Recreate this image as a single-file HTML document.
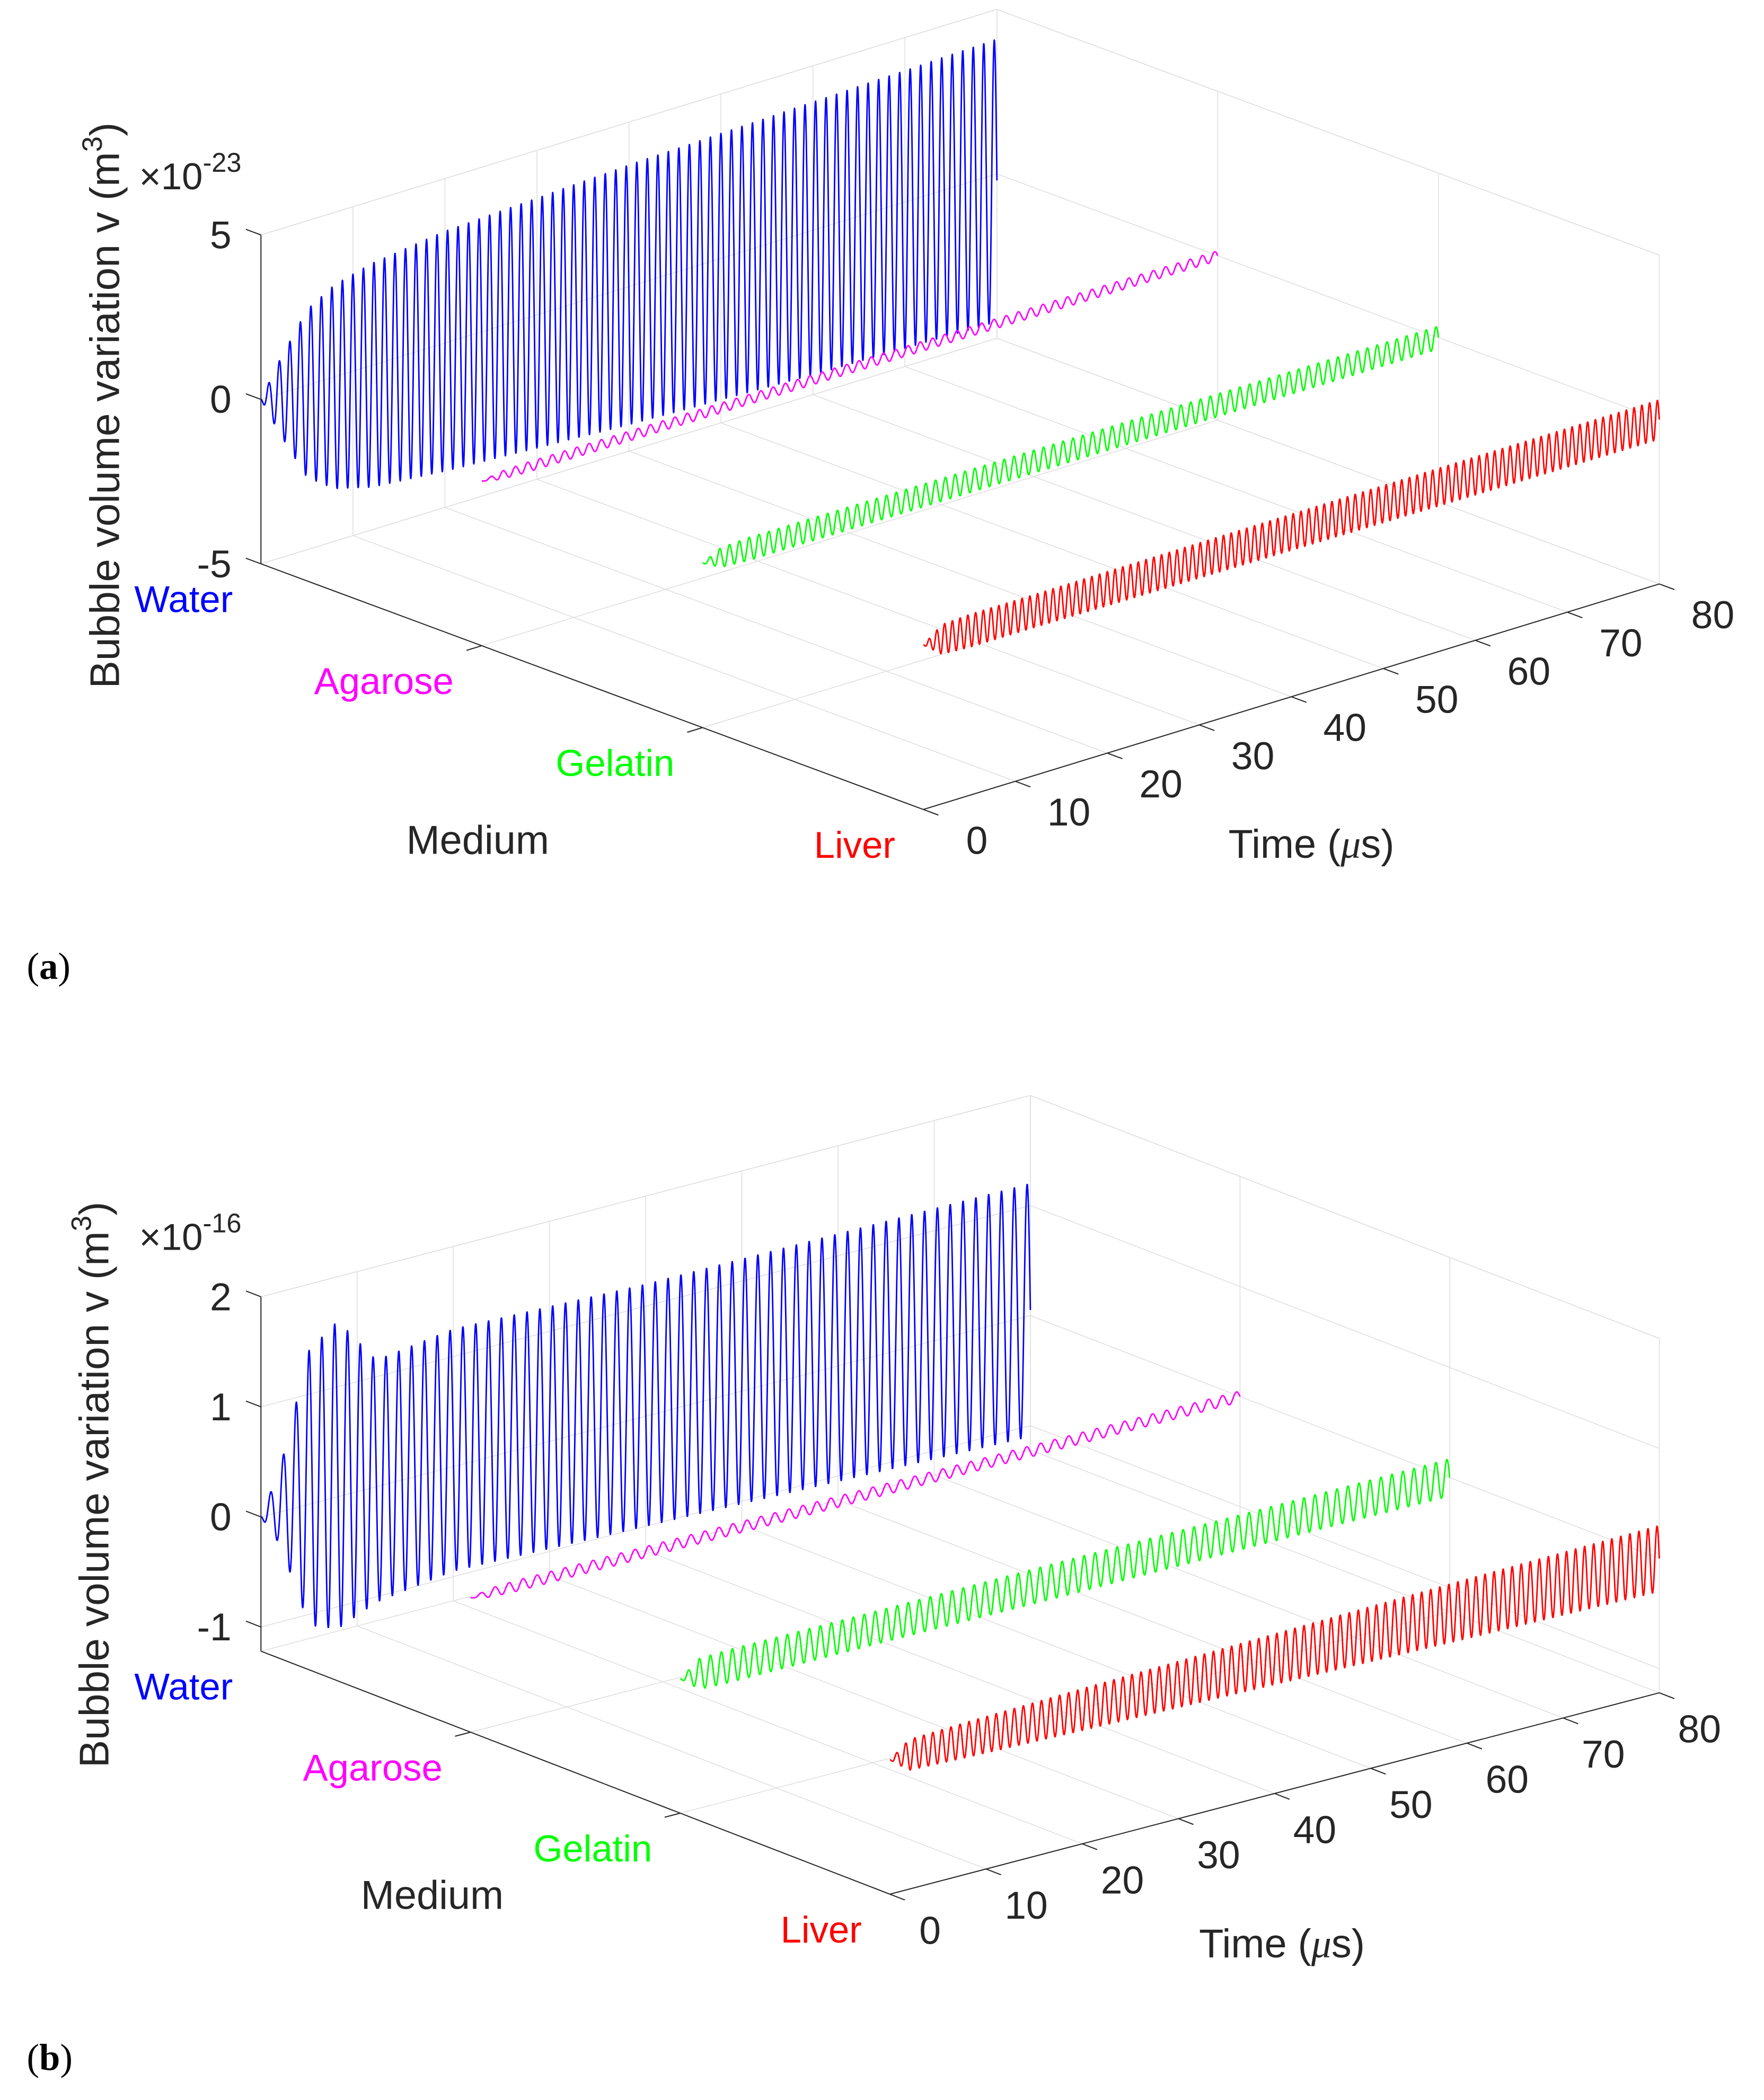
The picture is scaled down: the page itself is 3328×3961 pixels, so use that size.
<!DOCTYPE html>
<html><head><meta charset="utf-8"><style>
html,body{margin:0;padding:0;background:#fff;}
svg{display:block;}
text{font-family:"Liberation Sans",Arial,sans-serif;fill:#262626;}
</style></head><body>
<svg width="3328" height="3961" viewBox="0 0 1330.1 1583.1" preserveAspectRatio="none" xmlns="http://www.w3.org/2000/svg">
<g id="fig" transform="scale(1.009,1.012)">
<text x="20" y="1542" style="font-family:'Liberation Serif',serif;font-size:28px;fill:#000">(<tspan font-weight="bold">b</tspan>)</text>
<text x="20" y="729" style="font-family:'Liberation Serif',serif;font-size:28px;fill:#000">(<tspan font-weight="bold">a</tspan>)</text>
</g>
</svg>
<script>
// shared data
const mediums = ['Water','Agarose','Gelatin','Liver'];
const mediumColors = ['#0000ff','#ff00ff','#00ff00','#ff0000'];
const timeTicks = [0,10,20,30,40,50,60,70,80];
const envTimes = [0,2,5,8,12,20,40,60,80];
// panel a (x1e-23)
const aZTicks = [-5,0,5];
const aCycles = [70,60,75,95];
const aWaterTop = [0,1.0,2.3,2.8,3.1,3.4,3.7,3.9,4.1];
const aWaterBot = [0,-1.2,-2.8,-3.4,-3.7,-3.9,-4.2,-4.4,-4.5];
const aAgaroseTop = [0,0.12,0.15,0.15,0.15,0.15,0.15,0.15,0.15];
const aAgaroseBot = [0,-0.12,-0.15,-0.15,-0.15,-0.15,-0.15,-0.15,-0.15];
const aGelatinTop = [0,0.3,0.35,0.35,0.35,0.35,0.35,0.35,0.35];
const aGelatinBot = [0,-0.3,-0.35,-0.35,-0.35,-0.35,-0.35,-0.35,-0.35];
const aLiverTop = [0,0.45,0.5,0.5,0.5,0.52,0.55,0.58,0.6];
const aLiverBot = [0,-0.45,-0.5,-0.5,-0.5,-0.52,-0.55,-0.58,-0.6];
// panel b (x1e-16)
const bZTicks = [-1,0,1,2];
const bCycles = [60,55,70,85];
const bWaterTop = [0,0.4,1.4,1.6,1.15,1.25,1.2,1.2,1.2];
const bWaterBot = [0,-0.3,-1.1,-1.2,-1.05,-0.95,-1.0,-1.05,-1.1];
const bAgaroseTop = [0,0.04,0.05,0.05,0.05,0.05,0.05,0.05,0.05];
const bAgaroseBot = [0,-0.04,-0.05,-0.05,-0.05,-0.05,-0.05,-0.05,-0.05];
const bGelatinTop = [0,0.14,0.15,0.15,0.15,0.15,0.16,0.16,0.17];
const bGelatinBot = [0,-0.14,-0.15,-0.15,-0.15,-0.15,-0.16,-0.16,-0.17];
const bLiverTop = [0,0.14,0.15,0.16,0.17,0.19,0.23,0.27,0.3];
const bLiverBot = [0,-0.14,-0.15,-0.16,-0.17,-0.19,-0.23,-0.27,-0.3];

const NS='http://www.w3.org/2000/svg';
const svg=document.getElementById('fig');
function mk(tag,attrs,parent){const e=document.createElementNS(NS,tag);for(const k in attrs)e.setAttribute(k,attrs[k]);(parent||svg).appendChild(e);return e;}
function interp(xs,ys,x){for(let i=1;i<xs.length;i++){if(x<=xs[i]){const f=(x-xs[i-1])/(xs[i]-xs[i-1]);return ys[i-1]+f*(ys[i]-ys[i-1]);}}return ys[ys.length-1];}

function panel(cfg){
  const g=mk('g',{});
  
  
  const P=(m,t,z)=>{const fm=(m-1)/3,ft=t/80,fz=(z-cfg.zmin)/(cfg.zmax-cfg.zmin);
    return [cfg.O[0]+fm*cfg.M[0]+ft*cfg.T[0], cfg.O[1]+fm*cfg.M[1]+ft*cfg.T[1]-fz*cfg.H];};
  const line=(a,b,stroke,w,name)=>{const l=mk('line',{x1:a[0],y1:a[1],x2:b[0],y2:b[1],stroke:stroke,'stroke-width':w},g);
    
    return l;};
  const GC='#dedede',GW=0.6;
  timeTicks.forEach(t=>line(P(1,t,cfg.zmin),P(1,t,cfg.zmax),GC,GW,'grid-line-time-back'));
  cfg.zTicks.forEach(z=>line(P(1,0,z),P(1,80,z),GC,GW,'grid-line-z-back'));
  line(P(1,0,cfg.zmax),P(1,80,cfg.zmax),GC,GW,'box-edge-top');
  [1,2,3,4].forEach(m=>line(P(m,80,cfg.zmin),P(m,80,cfg.zmax),GC,GW,'grid-line-medium-side'));
  cfg.zTicks.forEach(z=>line(P(1,80,z),P(4,80,z),GC,GW,'grid-line-z-side'));
  line(P(1,80,cfg.zmax),P(4,80,cfg.zmax),GC,GW,'box-edge-top');
  timeTicks.forEach(t=>line(P(1,t,cfg.zmin),P(4,t,cfg.zmin),GC,GW,'grid-line-time-floor'));
  [1,2,3,4].forEach(m=>line(P(m,0,cfg.zmin),P(m,80,cfg.zmin),GC,GW,'grid-line-medium-floor'));
  cfg.series.forEach((s,i)=>{
    const N=3000;let d='';
    for(let k=0;k<=N;k++){const t=80*k/N;
      const top=interp(envTimes,s.top,t),bot=interp(envTimes,s.bot,t);
      const z=(top+bot)/2+(top-bot)/2*Math.sin(-2*Math.PI*cfg.cycles[i]*t/80);
      const p=P(i+1,t,z);d+=(k?'L':'M')+p[0].toFixed(2)+' '+p[1].toFixed(2);}
    const path=mk('path',{d:d,fill:'none',stroke:mediumColors[i],'stroke-width':1.1,'stroke-linejoin':'round'},g);
    
    
  });
  const AC='#262626',AW=0.8;
  line(P(1,0,cfg.zmin),P(1,0,cfg.zmax),AC,AW,'z-axis-line');
  line(P(1,0,cfg.zmin),P(4,0,cfg.zmin),AC,AW,'medium-axis-line');
  line(P(4,0,cfg.zmin),P(4,80,cfg.zmin),AC,AW,'time-axis-line');
  const ml=Math.hypot(cfg.M[0],cfg.M[1]),tl=Math.hypot(cfg.T[0],cfg.T[1]);
  cfg.zTicks.forEach(z=>{const p=P(1,0,z);line(p,[p[0]-12*cfg.M[0]/ml,p[1]-12*cfg.M[1]/ml],AC,AW,'z-tick');
    const tx=mk('text',{x:p[0]-22,y:p[1]+10,'text-anchor':'end','font-size':29},g);tx.textContent=String(z);
    
    });
  mediums.forEach((m,i)=>{const p=P(i+1,0,cfg.zmin);
    if(i>0&&i<3)line(p,[p[0]-12*cfg.T[0]/tl,p[1]-12*cfg.T[1]/tl],AC,AW,'medium-tick');
    const tx=mk('text',{x:p[0]-21,y:p[1]+cfg.mlOff,'text-anchor':'end','font-size':28,style:'fill:'+mediumColors[i]},g);tx.textContent=m;
    
    });
  timeTicks.forEach(t=>{const p=P(4,t,cfg.zmin);line(p,[p[0]+12*cfg.M[0]/ml,p[1]+12*cfg.M[1]/ml],AC,AW,'time-tick');
    const tx=mk('text',{x:p[0]+cfg.tlOff[0],y:p[1]+cfg.tlOff[1]+10,'text-anchor':'middle','font-size':29},g);tx.textContent=String(t);
    
    });
  let tx=mk('text',{x:cfg.medLab[0],y:cfg.medLab[1]+11,'text-anchor':'middle','font-size':30},g);tx.textContent='Medium';
  
  
  tx=mk('text',{x:cfg.timeLab[0],y:cfg.timeLab[1]+11,'text-anchor':'middle','font-size':30},g);
  tx.innerHTML='Time (<tspan font-family="Liberation Serif" font-style="italic">μ</tspan>s)';
  
  
  tx=mk('text',{x:0,y:0,'text-anchor':'middle','font-size':31,transform:'translate('+(cfg.yLab[0]+11)+','+cfg.yLab[1]+') rotate(-90)'},g);
  tx.innerHTML='Bubble volume variation v (m<tspan dy="-13" font-size="21">3</tspan><tspan dy="13">)</tspan>';
  
  
  tx=mk('text',{x:104,y:cfg.expY,'font-size':28},g);
  tx.innerHTML='×10<tspan dy="-13" font-size="20">'+cfg.exp+'</tspan>';
  
  
}

panel({id:'panel-a',O:[195,420],M:[495,183],T:[550,-168],zmin:-5,zmax:5,H:245,zTicks:aZTicks,cycles:aCycles,
  series:[{top:aWaterTop,bot:aWaterBot},{top:aAgaroseTop,bot:aAgaroseBot},{top:aGelatinTop,bot:aGelatinBot},{top:aLiverTop,bot:aLiverBot}],
  mlOff:36,tlOff:[40,23],medLab:[357,625],timeLab:[980,628],yLab:[78,302],expY:141,exp:'-23'});
panel({id:'panel-b',O:[195,1230],M:[470,181],T:[575,-150],zmin:-1.22,zmax:2,H:264,zTicks:bZTicks,cycles:bCycles,
  series:[{top:bWaterTop,bot:bWaterBot},{top:bAgaroseTop,bot:bAgaroseBot},{top:bGelatinTop,bot:bGelatinBot},{top:bLiverTop,bot:bLiverBot}],
  mlOff:36,tlOff:[30,27],medLab:[323,1411],timeLab:[958,1447],yLab:[70,1106],expY:931,exp:'-16'});
</script>
</body></html>
